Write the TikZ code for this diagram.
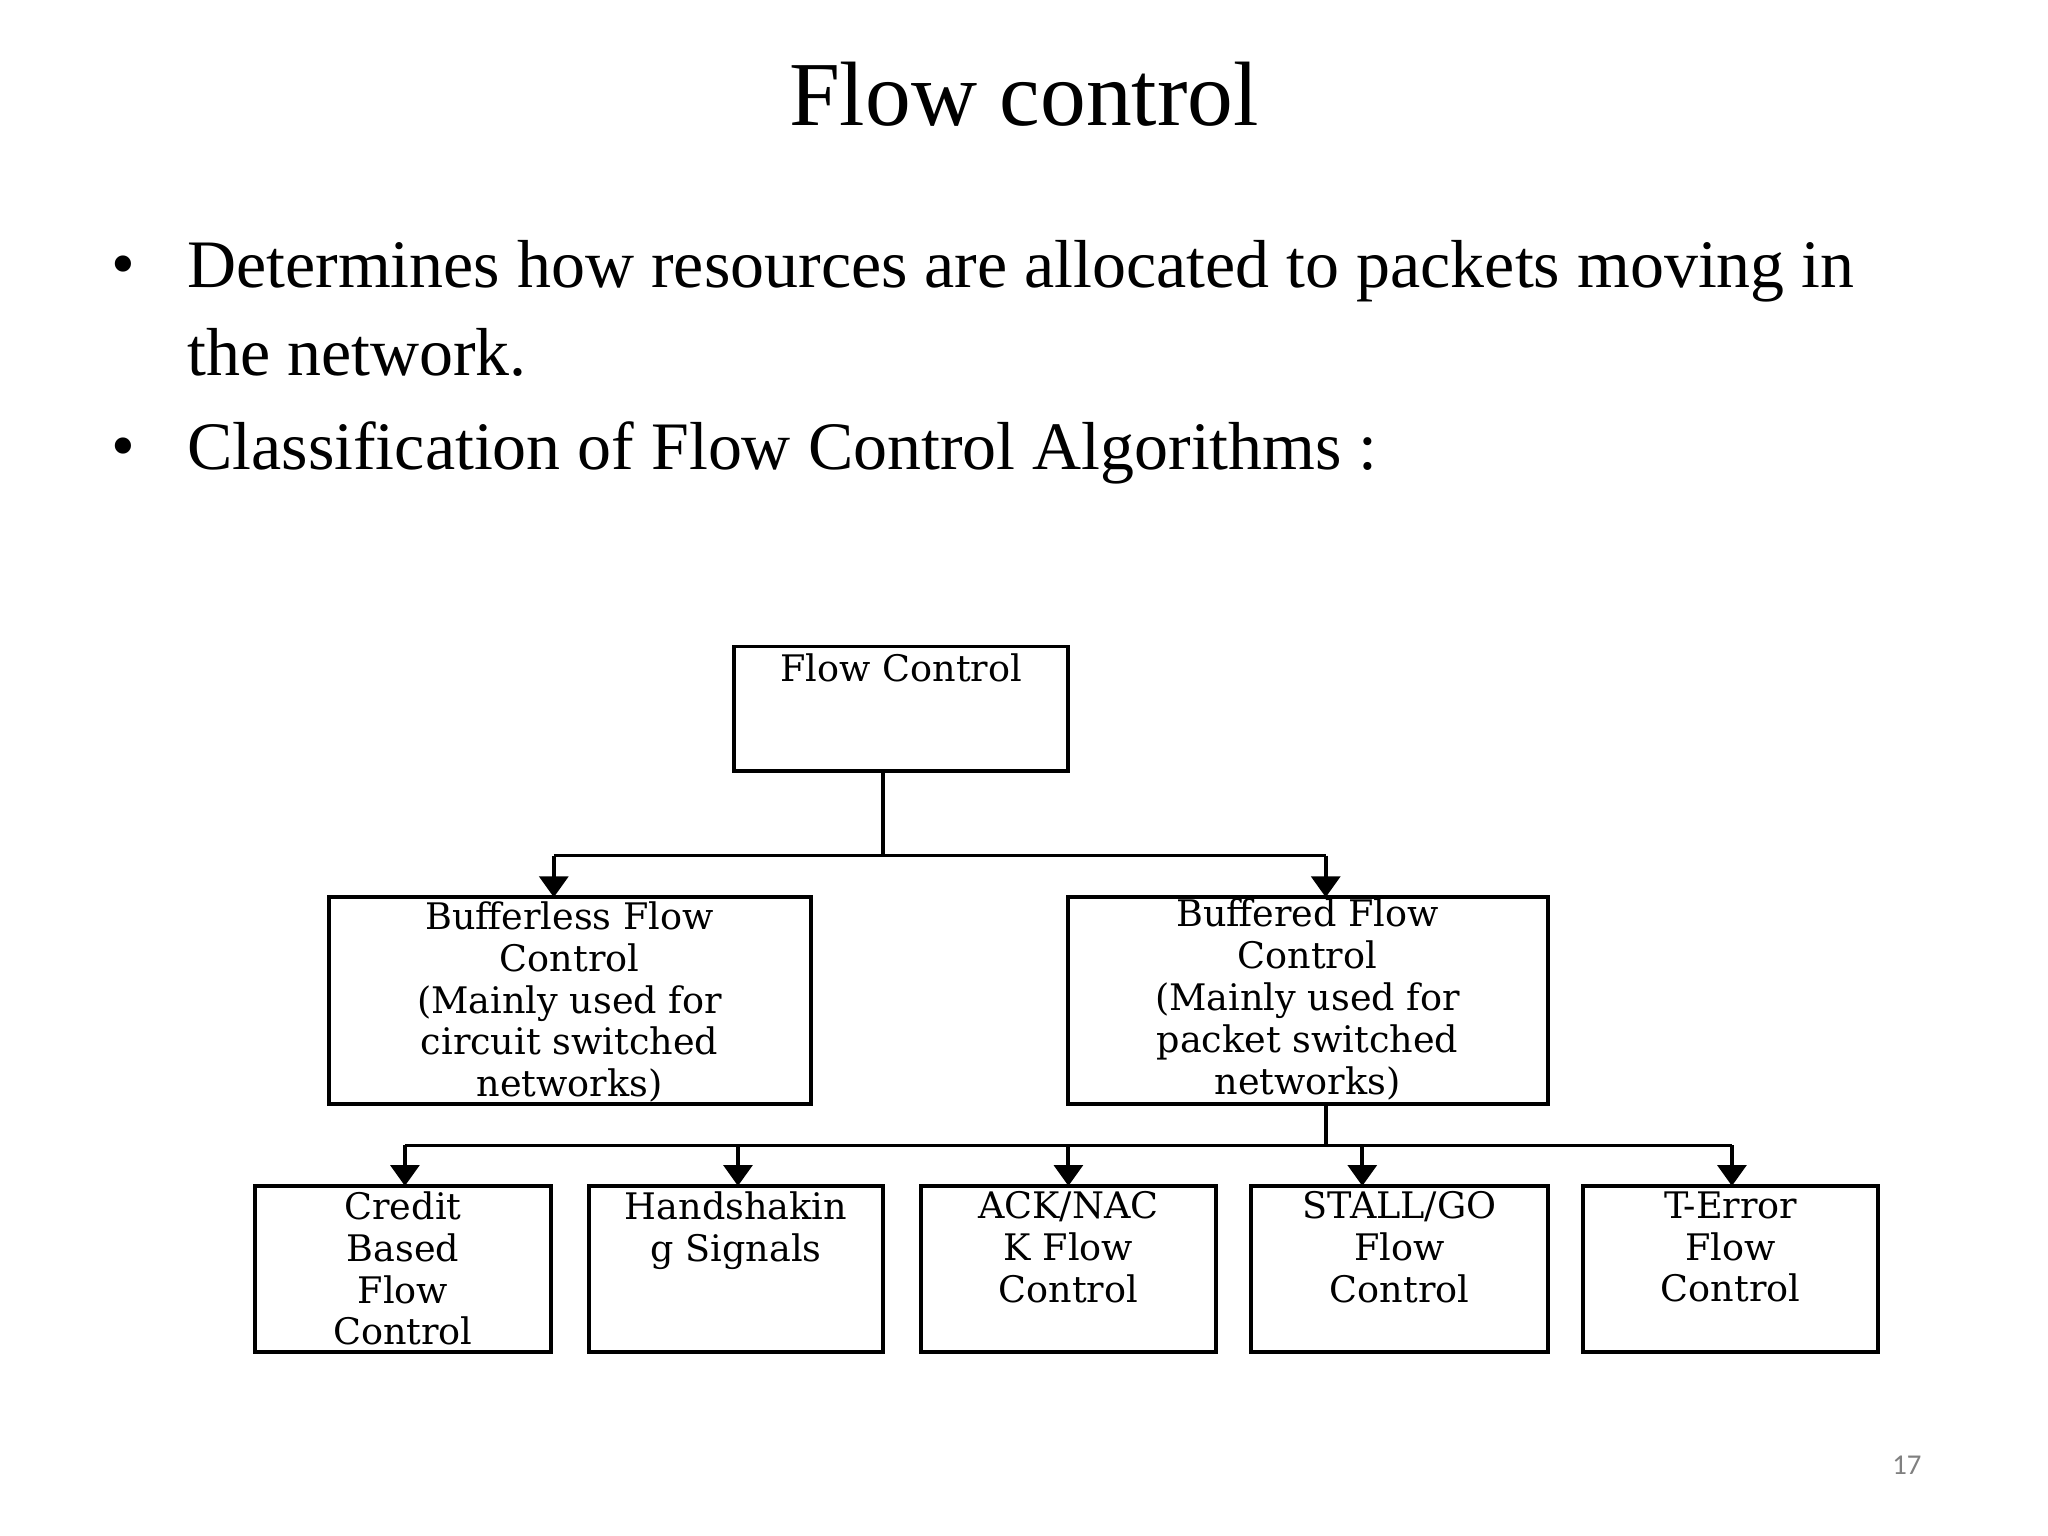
\documentclass[tikz,border=0pt]{standalone}
\usepackage{fontspec}
\setmainfont{Liberation Serif}
\newfontfamily\diagfont{DejaVu Serif}
\newfontfamily\pgfont{Carlito}
\usetikzlibrary{arrows.meta}
\begin{document}
\begin{tikzpicture}[x=0.5pt,y=-0.5pt,
  box/.style={draw,line width=1.5pt},
  lbl/.style={anchor=north,align=center,font=\diagfont\fontsize{14}{16}\selectfont,inner sep=0pt},
  ln/.style={line width=1.5pt},
  arr/.style={line width=1.5pt,-{Triangle[width=11pt,length=8pt]}}]
\useasboundingbox[fill=white] (0,0) rectangle (1568,1176);
\node[font=\fontsize{35}{40}\selectfont] (title) at (784,72) {Flow control};
\node[anchor=west,font=\fontsize{26}{31}\selectfont,inner sep=0pt] (b1) at (85,208) {•};
\node[anchor=west,font=\fontsize{26}{31}\selectfont,inner sep=0pt] (t1) at (143,208) {Determines how resources are allocated to packets moving in};
\node[anchor=west,font=\fontsize{26}{31}\selectfont,inner sep=0pt] (t1b) at (143,270) {the network.};
\node[anchor=west,font=\fontsize{26}{31}\selectfont,inner sep=0pt] (b2) at (85,347) {•};
\node[anchor=west,font=\fontsize{26}{31}\selectfont,inner sep=0pt] (t2) at (143,347) {Classification of Flow Control Algorithms :};
% boxes
\draw[box] (562,495) rectangle (818,590);
\node[lbl] (fc) at (690,500) {Flow Control};
\draw[box] (252,687) rectangle (621,845);
\node[lbl] (bl) at (436,690) {Bufferless Flow\\Control\\(Mainly used for\\circuit switched\\networks)};
\draw[box] (818,687) rectangle (1185,845);
\node[lbl] (bf) at (1001,688) {Buffered Flow\\Control\\(Mainly used for\\packet switched\\networks)};
\foreach \a/\b/\t/\n in {195/422/{Credit\\Based\\Flow\\Control}/c1,451/676/{Handshakin\\g Signals}/c2,705/931/{ACK/NAC\\K Flow\\Control}/c3,958/1185/{STALL/GO\\Flow\\Control}/c4,1212/1438/{T-Error\\Flow\\Control}/c5}{
  \draw[box] (\a,908) rectangle (\b,1035);
  \node[lbl] (\n) at ({(\a+\b)/2},912) {\t};
}
% connectors
\coordinate (j1) at (676,590);
\coordinate (j2) at (676,655);
\draw[ln] (j1) -- (j2);
\coordinate (hl) at (424,655); \coordinate (hr) at (1015,655);
\draw[ln] (hl) -- (hr);
\coordinate (al) at (424,687); \coordinate (ar) at (1015,687);
\draw[arr] (hl) -- (al);
\draw[arr] (hr) -- (ar);
\coordinate (k1) at (1015,845); \coordinate (k2) at (1015,877);
\draw[ln] (k1) -- (k2);
\coordinate (h1) at (310,877); \coordinate (h5) at (1326,877);
\draw[ln] (h1) -- (h5);
\foreach \x in {310,565,818,1043,1326}{
  \coordinate (s\x) at (\x,877); \coordinate (e\x) at (\x,908);
  \draw[arr] (s\x) -- (e\x);
}
\node[font=\pgfont\fontsize{11}{13}\selectfont,text=gray] (pg) at (1460,1122) {17};
\end{tikzpicture}
\end{document}
